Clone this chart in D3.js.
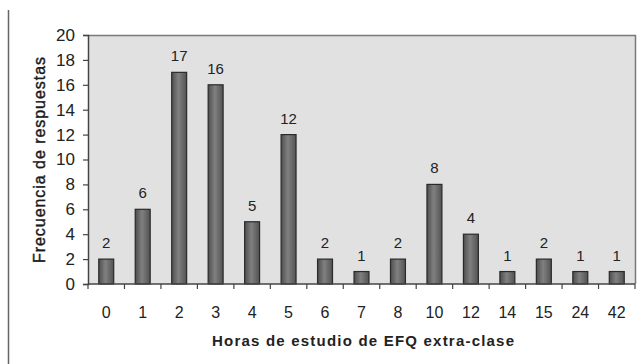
<!DOCTYPE html>
<html>
<head>
<meta charset="utf-8">
<script src="https://cdn.jsdelivr.net/npm/d3@7"></script>
<style>
  html, body { margin: 0; padding: 0; background: #fff; }
  svg { display: block; font-family: "Liberation Sans", Arial, sans-serif; }
</style>
</head>
<body>
<svg id="chart" width="639" height="364"></svg>
<script>
// Hours of extra-class EFQ study and how many answers gave each value
const horas = ["0", "1", "2", "3", "4", "5", "6", "7", "8", "10", "12", "14", "15", "24", "42"];
const frecuencias = [2, 6, 17, 16, 5, 12, 2, 1, 2, 8, 4, 1, 2, 1, 1];
const yTicks = [0, 2, 4, 6, 8, 10, 12, 14, 16, 18, 20];

const svg = d3.select("#chart");
const plot = { left: 88, right: 635, top: 35, bottom: 284 };

const x = d3.scaleBand()
  .domain(horas)
  .range([plot.left, plot.right])
  .paddingInner(0.59)
  .paddingOuter(0.295);

const y = d3.scaleLinear().domain([0, 20]).range([plot.bottom, plot.top]);

// outer chart frame (left edge)
svg.append("line")
  .attr("x1", 8.5).attr("x2", 8.5).attr("y1", 10).attr("y2", 364)
  .attr("stroke", "#666").attr("stroke-width", 1.5);

// plot area
svg.append("rect")
  .attr("x", plot.left).attr("y", plot.top)
  .attr("width", plot.right - plot.left).attr("height", plot.bottom - plot.top)
  .attr("fill", "#e1e1e1");
svg.append("path")
  .attr("d", `M${plot.left},${plot.top + 0.5}H${plot.right + 0.5}V${plot.bottom}`)
  .attr("fill", "none").attr("stroke", "#7a7a7a").attr("stroke-width", 1.5);

// bar shading
const defs = svg.append("defs");
const grad = defs.append("linearGradient").attr("id", "barShade")
  .attr("x1", "0").attr("x2", "1").attr("y1", "0").attr("y2", "0");
grad.append("stop").attr("offset", "0").attr("stop-color", "#4e4e4e");
grad.append("stop").attr("offset", "0.45").attr("stop-color", "#808080");
grad.append("stop").attr("offset", "1").attr("stop-color", "#525252");

const data = horas.map((h, i) => ({ h, v: frecuencias[i] }));

svg.append("g").selectAll("rect")
  .data(data)
  .join("rect")
  .attr("x", d => x(d.h))
  .attr("y", d => y(d.v))
  .attr("width", x.bandwidth())
  .attr("height", d => y(0) - y(d.v))
  .attr("fill", "url(#barShade)")
  .attr("stroke", "#2a2a2a")
  .attr("stroke-width", 1.2);

// value labels
svg.append("g").selectAll("text")
  .data(data)
  .join("text")
  .attr("x", d => x(d.h) + x.bandwidth() / 2)
  .attr("y", d => y(d.v) - 11)
  .attr("text-anchor", "middle")
  .attr("font-size", 15)
  .attr("fill", "#222")
  .text(d => d.v);

// y axis
const yAxis = svg.append("g")
  .attr("transform", `translate(${plot.left},0)`)
  .call(d3.axisLeft(y).tickValues(yTicks).tickSize(5).tickPadding(8));
yAxis.select(".domain").attr("stroke", "#444").attr("stroke-width", 1.5);
yAxis.selectAll(".tick line").attr("stroke", "#444").attr("stroke-width", 1.2);
yAxis.selectAll(".tick text").attr("font-size", 17).attr("fill", "#222")
  .attr("font-family", "Liberation Sans, Arial, sans-serif");

// x axis: ticks sit between categories
const xAxis = svg.append("g")
  .attr("transform", `translate(0,${plot.bottom})`);
xAxis.append("line")
  .attr("x1", plot.left).attr("x2", plot.right)
  .attr("stroke", "#444").attr("stroke-width", 1.5);
const step = x.step();
xAxis.selectAll("line.tk")
  .data(d3.range(horas.length + 1))
  .join("line")
  .attr("class", "tk")
  .attr("x1", i => plot.left + i * step).attr("x2", i => plot.left + i * step)
  .attr("y1", 0).attr("y2", 5)
  .attr("stroke", "#444").attr("stroke-width", 1.2);
xAxis.selectAll("text")
  .data(horas)
  .join("text")
  .attr("x", d => x(d) + x.bandwidth() / 2)
  .attr("y", 34)
  .attr("text-anchor", "middle")
  .attr("font-size", 16)
  .attr("fill", "#222")
  .text(d => d);

// axis titles
svg.append("text")
  .attr("x", 363).attr("y", 346)
  .attr("text-anchor", "middle")
  .attr("font-size", 15).attr("font-weight", "bold")
  .attr("textLength", 302).attr("lengthAdjust", "spacing")
  .attr("fill", "#222")
  .text("Horas de estudio de EFQ extra-clase");

svg.append("text")
  .attr("transform", "translate(45,160) rotate(-90)")
  .attr("text-anchor", "middle")
  .attr("font-size", 16)
  .attr("textLength", 206).attr("lengthAdjust", "spacing")
  .attr("fill", "#1a1a1a")
  .attr("stroke", "#1a1a1a").attr("stroke-width", 0.4)
  .text("Frecuencia de respuestas");
</script>
</body>
</html>
